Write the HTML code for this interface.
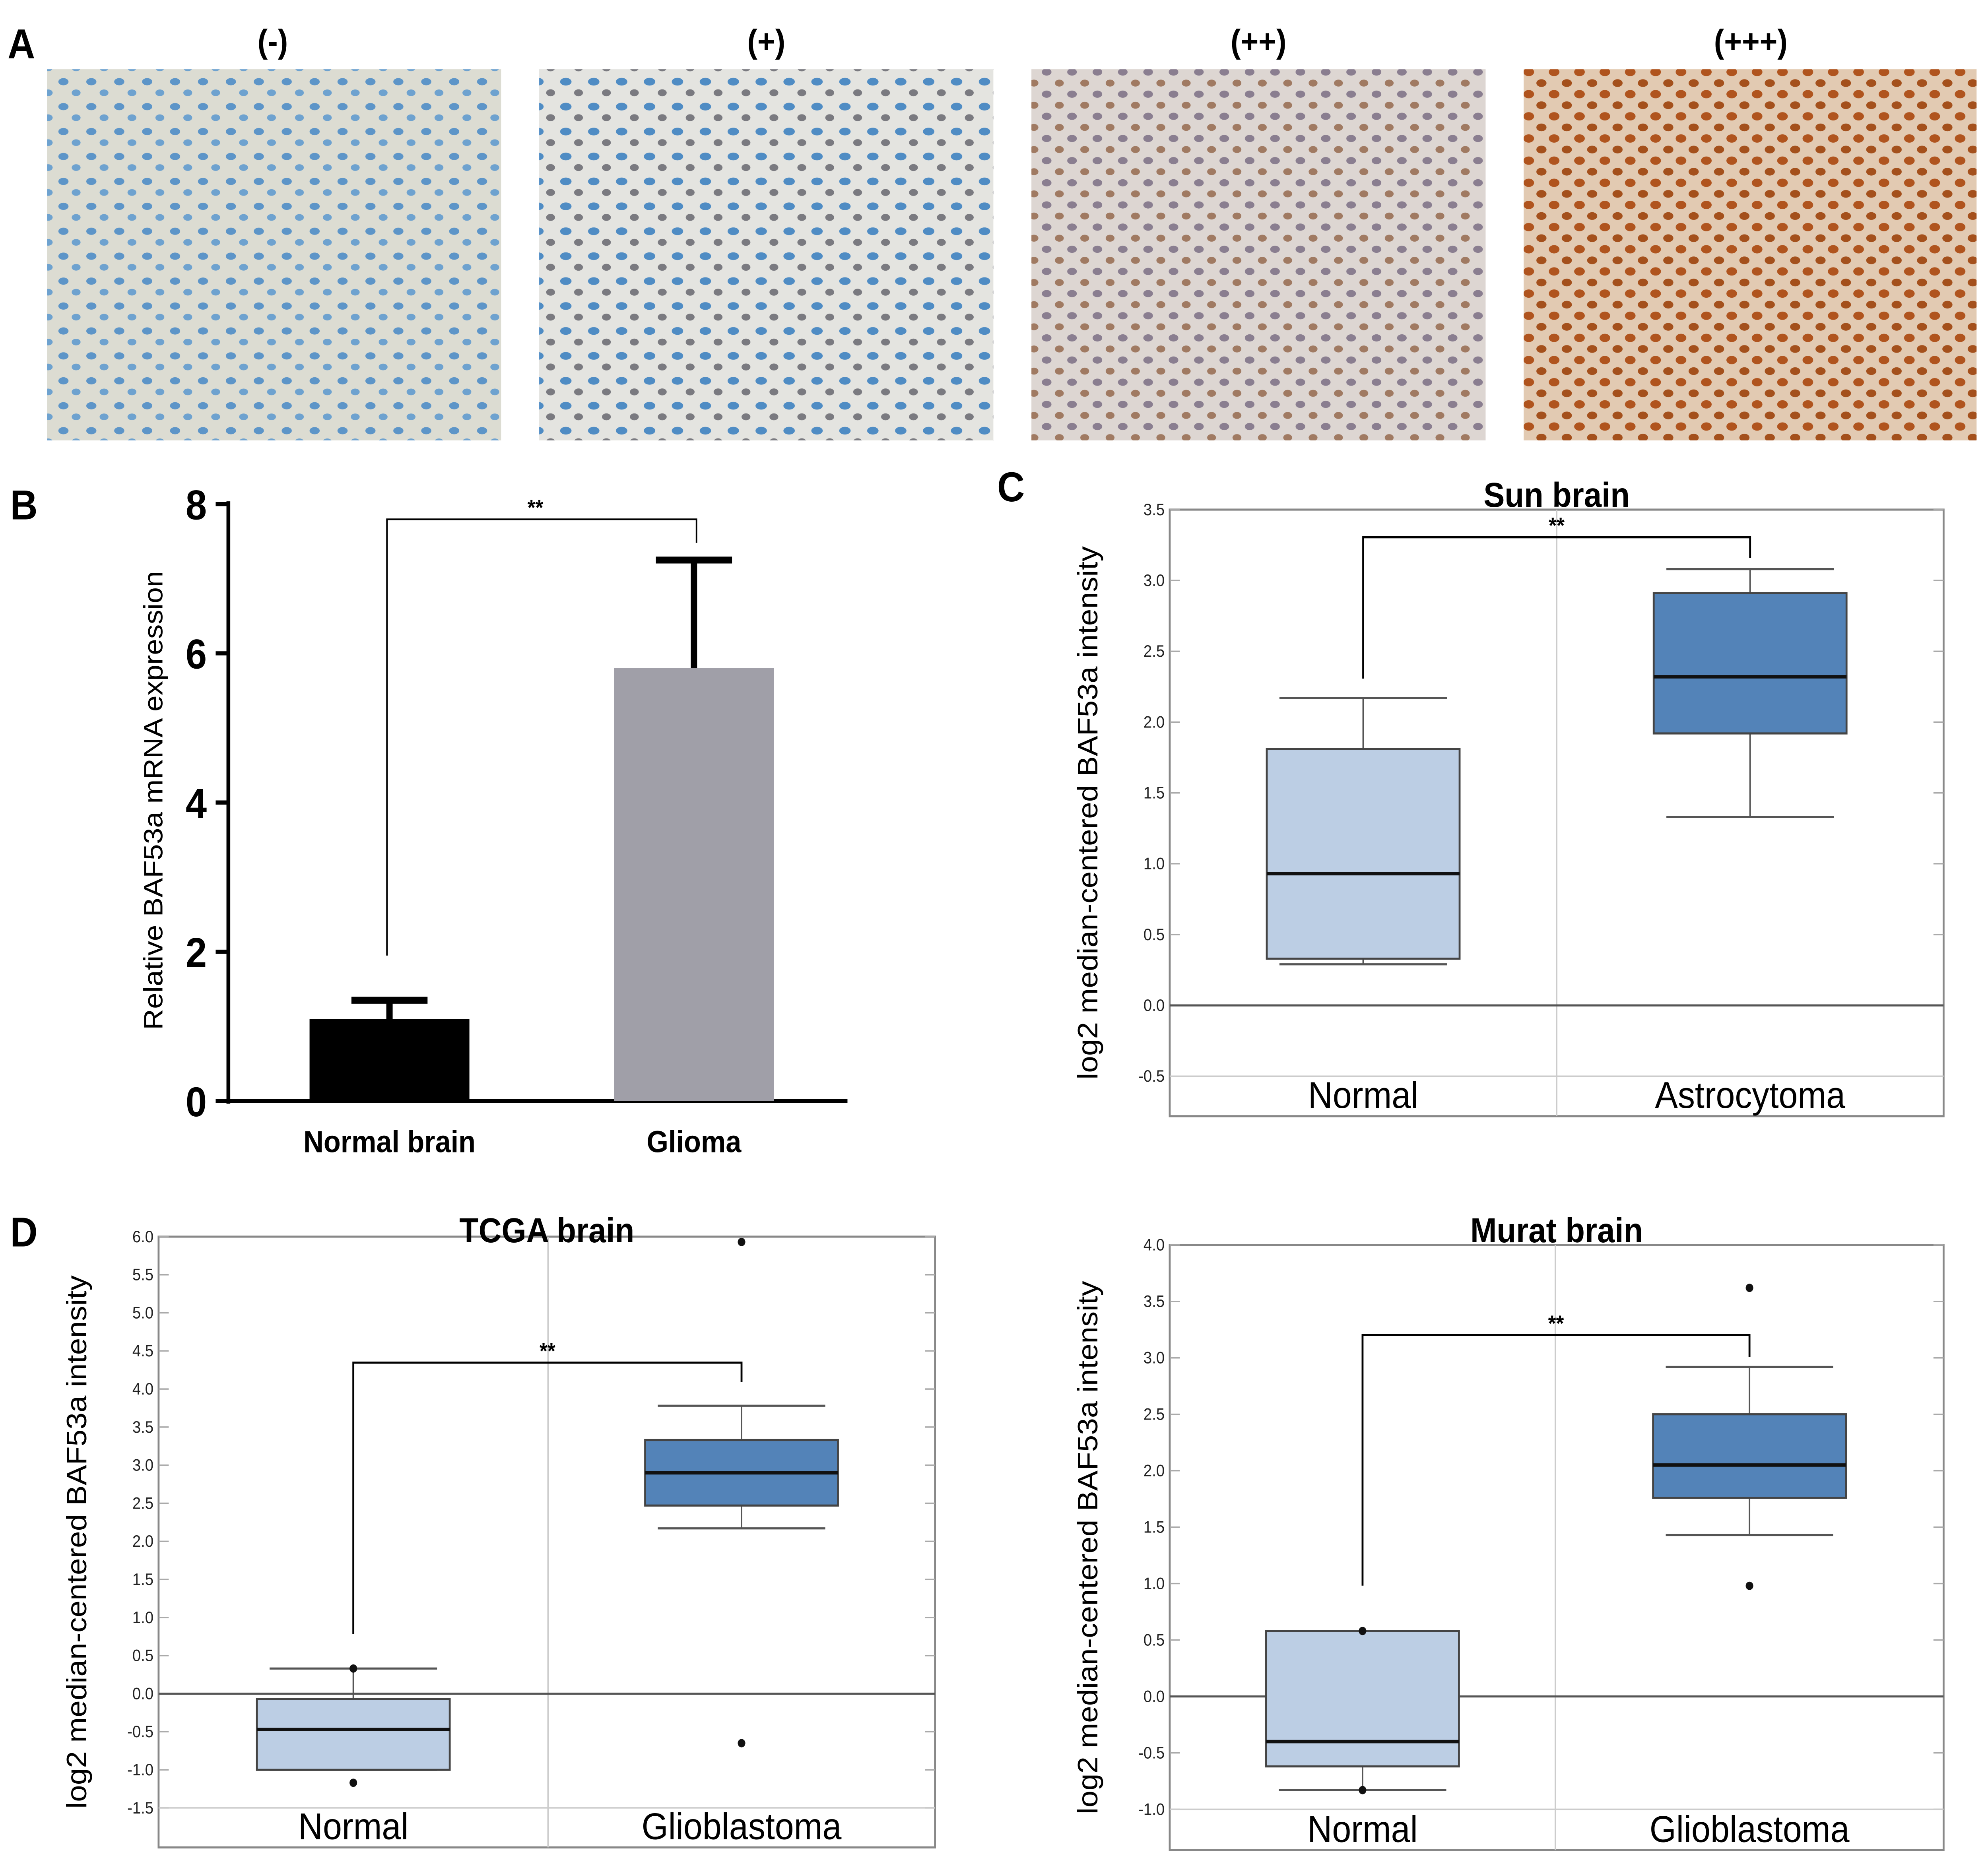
<!DOCTYPE html>
<html><head><meta charset="utf-8">
<style>
html,body{margin:0;padding:0;background:#fff;overflow:hidden;width:100%;height:100%;}
svg{display:block;width:100vw;height:100vh;font-family:"Liberation Sans",Arial,sans-serif;}
</style></head>
<body>
<svg id="fig" viewBox="0 0 1567 1346" preserveAspectRatio="none" xmlns="http://www.w3.org/2000/svg">
<defs>
<pattern id="p1" width="22" height="18" patternUnits="userSpaceOnUse"><rect width="22" height="18" fill="#dcdcd2"/><ellipse cx="6" cy="5" rx="4" ry="2.6" fill="#5d95c8"/><ellipse cx="16" cy="13" rx="3.5" ry="2.4" fill="#6ea2cf"/></pattern>
<pattern id="p2" width="22" height="18" patternUnits="userSpaceOnUse"><rect width="22" height="18" fill="#e4e4e0"/><ellipse cx="6" cy="5" rx="4.5" ry="2.8" fill="#4f8cc4"/><ellipse cx="16" cy="13" rx="3.5" ry="2.5" fill="#7a7a80"/></pattern>
<pattern id="p3" width="20" height="16" patternUnits="userSpaceOnUse"><rect width="20" height="16" fill="#ddd6d2"/><ellipse cx="5" cy="4" rx="3.8" ry="2.6" fill="#8a7e90"/><ellipse cx="15" cy="12" rx="3.5" ry="2.5" fill="#a07a62"/></pattern>
<pattern id="p4" width="20" height="16" patternUnits="userSpaceOnUse"><rect width="20" height="16" fill="#e2cab2"/><ellipse cx="5" cy="4" rx="4.2" ry="3" fill="#b0541e"/><ellipse cx="15" cy="12" rx="4" ry="2.8" fill="#a4501c"/></pattern>
</defs>
<g font-weight="bold" font-size="30">
<text x="6" y="42">A</text>
<text x="8" y="375">B</text>
<text x="786" y="362">C</text>
<text x="8" y="900">D</text>
</g>
<g font-weight="bold" font-size="24" text-anchor="middle">
<text x="215" y="38">(-)</text>
<text x="604" y="38">(+)</text>
<text x="992" y="38">(++)</text>
<text x="1380" y="38">(+++)</text>
</g>
<rect x="37" y="50" width="358" height="268" fill="url(#p1)"/>
<rect x="425" y="50" width="358" height="268" fill="url(#p2)"/>
<rect x="813" y="50" width="358" height="268" fill="url(#p3)"/>
<rect x="1201" y="50" width="357" height="268" fill="url(#p4)"/>
<g id="gb"></g><g id="gc"></g><g id="gd1"></g><g id="gd2"></g>
</svg>
<script>
const NS="http://www.w3.org/2000/svg";
function mk(p,tag,at,txt){const e=document.createElementNS(NS,tag);for(const k in at)e.setAttribute(k,at[k]);if(txt!==undefined)e.textContent=txt;p.appendChild(e);return e;}

const bCategories=["Normal brain","Glioma"];
const bValues=[1.1,5.8];
const bErrors=[0.25,1.45];
const bTicks=[0,2,4,6,8];
const cCategories=["Normal","Astrocytoma"];
const cStats=[[0.29,0.33,0.93,1.81,2.17],[1.33,1.92,2.32,2.91,3.08]];
const cOutliers=[[],[]];
const cTicks=[-0.5,0,0.5,1,1.5,2,2.5,3,3.5];
const d1Categories=["Normal","Glioblastoma"];
const d1Stats=[[-1.0,-1.0,-0.47,-0.07,0.33],[2.17,2.47,2.9,3.33,3.78]];
const d1Outliers=[[0.33,-1.17],[5.93,-0.65]];
const d1Ticks=[-1.5,-1,-0.5,0,0.5,1,1.5,2,2.5,3,3.5,4,4.5,5,5.5,6];
const d2Categories=["Normal","Glioblastoma"];
const d2Stats=[[-0.83,-0.62,-0.4,0.58,0.58],[1.43,1.76,2.05,2.5,2.92]];
const d2Outliers=[[0.58,-0.83],[3.62,0.98]];
const d2Ticks=[-1,-0.5,0,0.5,1,1.5,2,2.5,3,3.5,4];

(function(){
 const g=document.getElementById('gb');
 const y=v=>795-v*(795-364)/8;
 const cx=[307,547], bw=126, fills=["#000","#a09fa8"];
 mk(g,'line',{x1:180,y1:362,x2:180,y2:797,stroke:'#000','stroke-width':3,});
 mk(g,'line',{x1:178,y1:795,x2:668,y2:795,stroke:'#000','stroke-width':3,});
 bTicks.forEach(t=>{
  mk(g,'line',{x1:170,y1:y(t),x2:180,y2:y(t),stroke:'#000','stroke-width':3});
  mk(g,'text',{x:163,y:y(t)+11,'font-size':30,'font-weight':'bold','text-anchor':'end',},t);
 });
 bValues.forEach((v,i)=>{
  const top=y(v+bErrors[i]);
  mk(g,'line',{x1:cx[i],y1:y(v),x2:cx[i],y2:top,stroke:'#000','stroke-width':5,});
  mk(g,'line',{x1:cx[i]-30,y1:top,x2:cx[i]+30,y2:top,stroke:'#000','stroke-width':5});
  mk(g,'rect',{x:cx[i]-bw/2,y:y(v),width:bw,height:y(0)-y(v),fill:fills[i],});
  mk(g,'text',{x:cx[i],y:832,'font-size':22,'font-weight':'bold','text-anchor':'middle',},bCategories[i]);
 });
 mk(g,'polyline',{points:`305,690 305,375 549,375 549,392`,fill:'none',stroke:'#000','stroke-width':1.2,});
 mk(g,'text',{x:422,y:372,'font-size':16,'font-weight':'bold','text-anchor':'middle'},'**');
 mk(g,'text',{transform:'translate(128,578) rotate(-90)','font-size':21,'text-anchor':'middle',},'Relative BAF53a mRNA expression');
})();

function boxPanel(id,cfg){
 const g=document.getElementById(id);
 const {x0,x1,yTop,yBot,vTop,yAt,vAt,cats,stats,outs,ticks,title,titleY,bracket,div}=cfg;
 const Y=v=>yTop+(vTop-v)/(vTop-vAt)*(yAt-yTop);
 mk(g,'rect',{x:x0,y:yTop,width:x1-x0,height:yBot-yTop,fill:'#fff',stroke:'#888','stroke-width':1.5,});
 mk(g,'line',{x1:div,y1:yTop,x2:div,y2:yBot,stroke:'#ccc','stroke-width':1.2});
 ticks.forEach(t=>{
  mk(g,'line',{x1:x0,y1:Y(t),x2:x0+8,y2:Y(t),stroke:'#aaa'});
  mk(g,'line',{x1:x1-8,y1:Y(t),x2:x1,y2:Y(t),stroke:'#aaa'});
  mk(g,'text',{x:x0-4,y:Y(t)+4,'font-size':12,'text-anchor':'end',fill:'#222',},t.toFixed(1));
 });
 const ylo=Y(ticks[0]);
 mk(g,'line',{x1:x0,y1:ylo,x2:x1,y2:ylo,stroke:'#ccc'});
 mk(g,'line',{x1:x0,y1:Y(0),x2:x1,y2:Y(0),stroke:'#555','stroke-width':1.5,});
 const cx=[(x0+div)/2,(div+x1)/2],bw=152,fills=['#bccee4','#5383b8'];
 stats.forEach((s,i)=>{
  const c=cx[i];
  mk(g,'line',{x1:c,y1:Y(s[0]),x2:c,y2:Y(s[4]),stroke:'#555','stroke-width':1.2});
  mk(g,'line',{x1:c-66,y1:Y(s[0]),x2:c+66,y2:Y(s[0]),stroke:'#555','stroke-width':1.5});
  mk(g,'line',{x1:c-66,y1:Y(s[4]),x2:c+66,y2:Y(s[4]),stroke:'#555','stroke-width':1.5});
  mk(g,'rect',{x:c-bw/2,y:Y(s[3]),width:bw,height:Y(s[1])-Y(s[3]),fill:fills[i],stroke:'#444','stroke-width':1.5,});
  mk(g,'line',{x1:c-bw/2,y1:Y(s[2]),x2:c+bw/2,y2:Y(s[2]),stroke:'#111','stroke-width':2.5});
  outs[i].forEach(o=>mk(g,'circle',{cx:c,cy:Y(o),r:3,fill:'#111',}));
  mk(g,'text',{x:c,y:yBot-6,'font-size':27,'text-anchor':'middle',},cats[i]);
 });
 const b=bracket;
 mk(g,'polyline',{points:`${cx[0]},${b[0]} ${cx[0]},${b[1]} ${cx[1]},${b[1]} ${cx[1]},${b[2]}`,fill:'none',stroke:'#000','stroke-width':1.5,});
 mk(g,'text',{x:(cx[0]+cx[1])/2,y:b[1]-3,'font-size':16,'font-weight':'bold','text-anchor':'middle'},'**');
 mk(g,'text',{x:(x0+x1)/2,y:titleY,'font-size':25,'font-weight':'bold','text-anchor':'middle',},title);
 mk(g,'text',{transform:`translate(${x0-57},${(yTop+yBot)/2}) rotate(-90)`,'font-size':22,'text-anchor':'middle',},'log2 median-centered BAF53a intensity');
}
boxPanel('gc',{x0:922,x1:1532,yTop:368,yBot:806,vTop:3.5,yAt:726,vAt:0,div:1227,cats:cCategories,stats:cStats,outs:cOutliers,ticks:cTicks,title:'Sun brain',titleY:366,bracket:[490,388,403]});
boxPanel('gd1',{x0:125,x1:737,yTop:893,yBot:1334,vTop:6.0,yAt:1223,vAt:0,div:432,cats:d1Categories,stats:d1Stats,outs:d1Outliers,ticks:d1Ticks,title:'TCGA brain',titleY:897,bracket:[1180,984,998]});
boxPanel('gd2',{x0:922,x1:1532,yTop:899,yBot:1336,vTop:4.0,yAt:1225,vAt:0,div:1226,cats:d2Categories,stats:d2Stats,outs:d2Outliers,ticks:d2Ticks,title:'Murat brain',titleY:897,bracket:[1145,964,980]});
</script>
</body></html>
